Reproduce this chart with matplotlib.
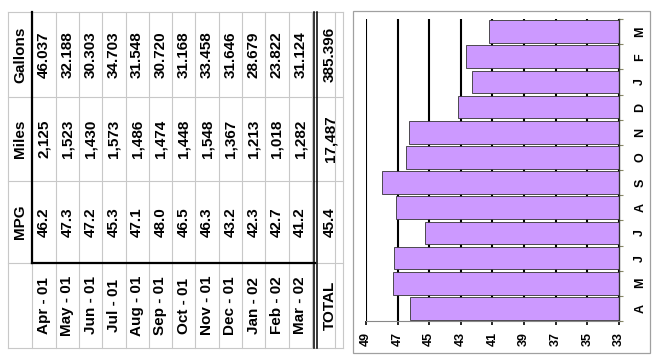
import matplotlib
matplotlib.use('Agg')
import matplotlib.pyplot as plt
from matplotlib.patches import Rectangle

### Data
months = ['Apr - 01', 'May - 01', 'Jun - 01', 'Jul - 01', 'Aug - 01', 'Sep - 01',
          'Oct - 01', 'Nov - 01', 'Dec - 01', 'Jan - 02', 'Feb - 02', 'Mar - 02']
mpg = [46.2, 47.3, 47.2, 45.3, 47.1, 48.0, 46.5, 46.3, 43.2, 42.3, 42.7, 41.2]
miles = [2125, 1523, 1430, 1573, 1486, 1474, 1448, 1548, 1367, 1213, 1018, 1282]
gallons = [46.037, 32.188, 30.303, 34.703, 31.548, 30.720, 31.168, 33.458,
           31.646, 28.679, 23.822, 31.124]
total_label = 'TOTAL'
total_mpg = 45.4
total_miles = 17487
total_gallons = 385.396
headers = ['MPG', 'Miles', 'Gallons']
letters = ['A', 'M', 'J', 'J', 'A', 'S', 'O', 'N', 'D', 'J', 'F', 'M']
value_ticks = [49, 47, 45, 43, 41, 39, 37, 35, 33]

plt.rcParams['font.family'] = ['Liberation Sans', 'DejaVu Sans']
plt.rcParams['font.weight'] = 'bold'

fig = plt.figure(figsize=(6.57, 3.64), dpi=100)

### background axes in pixel coordinates for the rotated table
bg = fig.add_axes([0, 0, 1, 1])
bg.set_xlim(0, 657)
bg.set_ylim(364, 0)
bg.set_axis_off()

light = '#c8c8c8'
x0 = 32.3
cw = 23.3
top, bottom = 12, 348
bands = [12, 97, 181, 263, 348]      # Gallons, Miles, MPG, month
xr = 343

# light grid
for i in range(14):
    bg.plot([x0 + cw * i] * 2, [top, bottom], color=light, lw=0.8)
bg.plot([8, 8], [top, bottom], color=light, lw=0.8)
bg.plot([xr, xr], [top, bottom], color=light, lw=0.8)
for yb in bands:
    bg.plot([8, xr], [yb, yb], color=light, lw=0.8)

# thick box and double line
bg.plot([x0, x0], [top, 263], color='black', lw=1.6)
bg.plot([x0, 315], [263, 263], color='black', lw=1.6)
bg.plot([314, 314], [top, bottom], color='black', lw=1.1)
bg.plot([317, 317], [top, bottom], color='black', lw=1.1)

ycent = [(bands[k] + bands[k + 1]) / 2 for k in range(4)]
y_gal, y_mil, y_mpg, y_mon = ycent
fs = 11

def put(x, y, s):
    bg.text(x, y, s, rotation=90, ha='center', va='center', fontsize=fs,
            fontweight='bold')

put(20, y_mpg, headers[0])
put(20, y_mil, headers[1])
put(20, y_gal, headers[2])
for i in range(len(months)):
    xc = x0 + cw * (i + 0.5)
    put(xc, y_mon, months[i])
    put(xc, y_mpg, '%.1f' % mpg[i])
    put(xc, y_mil, '{:,}'.format(miles[i]))
    put(xc, y_gal, '%.3f' % gallons[i])
xt = 330
put(xt, y_mon, total_label)
put(xt, y_mpg, '%.1f' % total_mpg)
put(xt, y_mil, '{:,}'.format(total_miles))
put(xt, y_gal, '%.3f' % total_gallons)

# chart frame
bg.add_patch(Rectangle((353, 11), 297, 342, fill=False, edgecolor='#a0a0a0', lw=0.9))

### chart axes (rotated column chart)
ax = fig.add_axes([366 / 657, (364 - 321) / 364, 253 / 657, 302 / 364])
pos = list(range(len(mpg)))
ax.barh(pos, [v - 33 for v in mpg], left=33, height=0.9, color='#cc99ff',
        edgecolor='#333333', linewidth=0.6, zorder=2)
ax.set_xlim(49, 33)
ax.set_ylim(-0.5, 11.5)
ax.set_xticks(value_ticks)
ax.set_xticklabels([str(v) for v in value_ticks], rotation=90, fontsize=9,
                   fontweight='bold')
ax.xaxis.grid(True, color='black', lw=1.5, zorder=0)
ax.set_axisbelow(True)
ax.yaxis.tick_right()
ax.set_yticks(pos)
ax.set_yticklabels(letters, rotation=90, fontsize=9, fontweight='bold', va='center')
ax.set_yticks([p - 0.5 for p in range(len(mpg) + 1)], minor=True)
ax.tick_params(axis='y', which='major', length=0, pad=11)
ax.tick_params(axis='y', which='minor', length=3, width=0.8, right=True, left=False,
               color='#888866')
ax.tick_params(axis='x', length=3, width=1.2, pad=5)
for s in ['top', 'left']:
    ax.spines[s].set_visible(False)
ax.spines['bottom'].set_color('#888888')
ax.spines['bottom'].set_linewidth(0.8)
ax.spines['right'].set_color('#333333')
ax.spines['right'].set_linewidth(1.0)

plt.savefig('out.png', dpi=100)
plt.close()
